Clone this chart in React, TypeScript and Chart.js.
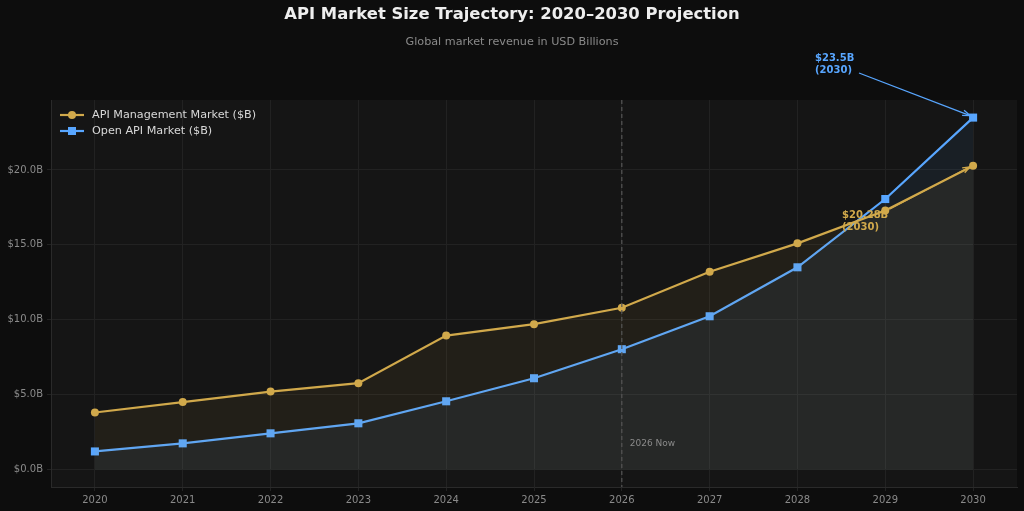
import React, { useEffect, useRef } from "react";
import { Chart, registerables } from "chart.js";

Chart.register(...registerables);

const years = [2020, 2021, 2022, 2023, 2024, 2025, 2026, 2027, 2028, 2029, 2030];
const apiManagement = [3.8, 4.5, 5.2, 5.76, 8.94, 9.7, 10.8, 13.2, 15.1, 17.3, 20.28];
const openApi = [1.2, 1.74, 2.41, 3.08, 4.55, 6.09, 8.03, 10.23, 13.5, 18.06, 23.5];
const yTicks = [0, 5, 10, 15, 20];
const seriesNames = ["API Management Market ($B)", "Open API Market ($B)"];
const titleText = "API Market Size Trajectory: 2020\u20132030 Projection";
const subtitleText = "Global market revenue in USD Billions";
const nowYear = 2026;
const nowLabel = "2026 Now";

const GOLD = "#d1a94b";
const BLUE = "#58a6ff";
const FONT = "'DejaVu Sans', sans-serif";

function arrow(ctx: CanvasRenderingContext2D, x1: number, y1: number, x2: number, y2: number, color: string) {
  ctx.save();
  ctx.strokeStyle = color;
  ctx.fillStyle = color;
  ctx.lineWidth = 1.3;
  ctx.beginPath();
  ctx.moveTo(x1, y1);
  ctx.lineTo(x2, y2);
  ctx.stroke();
  const ang = Math.atan2(y2 - y1, x2 - x1);
  const L = 8;
  ctx.beginPath();
  ctx.moveTo(x2, y2);
  ctx.lineTo(x2 - L * Math.cos(ang - 0.35), y2 - L * Math.sin(ang - 0.35));
  ctx.moveTo(x2, y2);
  ctx.lineTo(x2 - L * Math.cos(ang + 0.35), y2 - L * Math.sin(ang + 0.35));
  ctx.stroke();
  ctx.restore();
}

const decor = {
  id: "decor",
  beforeDraw(chart: any) {
    const { ctx, chartArea: a } = chart;
    ctx.save();
    ctx.fillStyle = "#0d0d0d";
    ctx.fillRect(0, 0, chart.width, chart.height);
    ctx.fillStyle = "#151515";
    ctx.fillRect(a.left, a.top, a.right - a.left, a.bottom - a.top);
    ctx.restore();
  },
  afterDatasetsDraw(chart: any) {
    const { ctx, chartArea: a, scales } = chart;
    const xs = scales.x;
    const ys = scales.y;
    ctx.save();
    // now line
    const nx = xs.getPixelForValue(nowYear);
    ctx.strokeStyle = "#555555";
    ctx.lineWidth = 1.2;
    ctx.setLineDash([4, 3]);
    ctx.beginPath();
    ctx.moveTo(nx, a.top);
    ctx.lineTo(nx, a.bottom);
    ctx.stroke();
    ctx.setLineDash([]);
    ctx.fillStyle = "#8a8a8a";
    ctx.font = `9px ${FONT}`;
    ctx.textAlign = "left";
    ctx.textBaseline = "middle";
    ctx.fillText(nowLabel, nx + 8, ys.getPixelForValue(1.75));

    // annotations
    const lx = xs.getPixelForValue(2030);
    const by = ys.getPixelForValue(openApi[openApi.length - 1]);
    const gy = ys.getPixelForValue(apiManagement[apiManagement.length - 1]);
    ctx.font = `bold 10px ${FONT}`;
    ctx.fillStyle = BLUE;
    ctx.textBaseline = "middle";
    ctx.fillText(`$${openApi[openApi.length - 1].toFixed(1)}B`, 815, 58);
    ctx.fillText("(2030)", 815, 70);
    arrow(ctx, 859, 73, lx - 3, by - 2, BLUE);
    ctx.fillStyle = GOLD;
    ctx.fillText(`$${apiManagement[apiManagement.length - 1].toFixed(2)}B`, 842, 215);
    ctx.fillText("(2030)", 842, 227);
    arrow(ctx, 890, 209, lx - 3, gy + 1, GOLD);

    // legend
    const items = [
      { name: seriesNames[0], color: GOLD, style: "circle", y: 115 },
      { name: seriesNames[1], color: BLUE, style: "rect", y: 131 },
    ];
    ctx.font = `11.2px ${FONT}`;
    for (const it of items) {
      ctx.strokeStyle = it.color;
      ctx.fillStyle = it.color;
      ctx.lineWidth = 2.2;
      ctx.beginPath();
      ctx.moveTo(60, it.y);
      ctx.lineTo(84, it.y);
      ctx.stroke();
      if (it.style === "circle") {
        ctx.beginPath();
        ctx.arc(72, it.y, 4, 0, Math.PI * 2);
        ctx.fill();
      } else {
        ctx.fillRect(68, it.y - 4, 8, 8);
      }
      ctx.fillStyle = "#d8d8d8";
      ctx.textBaseline = "middle";
      ctx.fillText(it.name, 92, it.y);
    }

    // titles
    ctx.textAlign = "center";
    ctx.fillStyle = "#eeeeee";
    ctx.font = `bold 16.4px ${FONT}`;
    ctx.fillText(titleText, 512, 15);
    ctx.fillStyle = "#8a8a8a";
    ctx.font = `11.2px ${FONT}`;
    ctx.fillText(subtitleText, 512, 42);
    ctx.restore();
  },
};

export default function App() {
  const ref = useRef<HTMLCanvasElement>(null);
  useEffect(() => {
    document.body.style.margin = "0";
    const chart = new Chart(ref.current!, {
      type: "line",
      data: {
        datasets: [
          {
            label: seriesNames[0],
            data: years.map((y, i) => ({ x: y, y: apiManagement[i] })),
            borderColor: GOLD,
            backgroundColor: "rgba(209,169,75,0.07)",
            fill: "origin",
            borderWidth: 2.2,
            pointStyle: "circle",
            pointRadius: 4,
            pointBackgroundColor: GOLD,
            pointBorderWidth: 0,
            tension: 0,
          },
          {
            label: seriesNames[1],
            data: years.map((y, i) => ({ x: y, y: openApi[i] })),
            borderColor: BLUE,
            backgroundColor: "rgba(88,166,255,0.07)",
            fill: "origin",
            borderWidth: 2.2,
            pointStyle: "rect",
            pointRadius: 5.7,
            pointBackgroundColor: BLUE,
            pointBorderWidth: 0,
            tension: 0,
          },
        ],
      },
      options: {
        animation: false,
        responsive: false,
        layout: { padding: { left: 0, top: 100, right: 7, bottom: 0 } },
        plugins: { legend: { display: false }, tooltip: { enabled: false }, title: { display: false } },
        scales: {
          x: {
            type: "linear",
            min: 2019.5,
            max: 2030.5,
            afterFit: (s: any) => { s.height = 24; },
            afterBuildTicks: (s: any) => { s.ticks = years.map((v) => ({ value: v })); },
            ticks: { color: "#8a8a8a", font: { family: FONT, size: 10 }, padding: 3, callback: (v: any) => String(v) },
            grid: { color: "#222222", tickLength: 4, lineWidth: 1 },
            border: { color: "#2a2a2a" },
          },
          y: {
            min: -1.175,
            max: 24.675,
            afterFit: (s: any) => { s.width = 51; },
            afterBuildTicks: (s: any) => { s.ticks = yTicks.map((v) => ({ value: v })); },
            ticks: { color: "#8a8a8a", font: { family: FONT, size: 10 }, padding: 4, callback: (v: any) => `$${Number(v).toFixed(1)}B` },
            grid: { color: "#222222", tickLength: 4, lineWidth: 1 },
            border: { color: "#2a2a2a" },
          },
        },
      },
      plugins: [decor],
    });
    return () => chart.destroy();
  }, []);
  return (
    <div style={{ position: "absolute", left: 0, top: 0, width: 1024, height: 511 }}>
      <canvas ref={ref} width={1024} height={511} />
    </div>
  );
}
